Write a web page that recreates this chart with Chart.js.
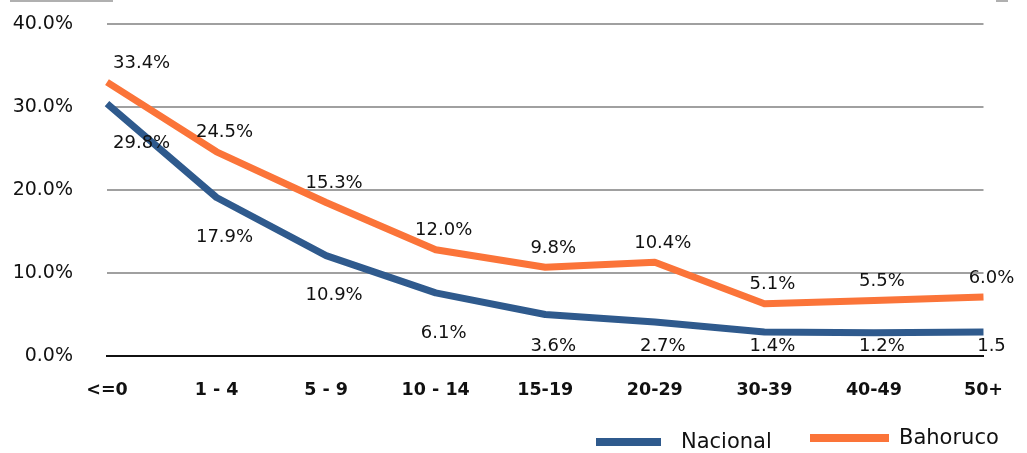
<!DOCTYPE html>
<html>
<head>
<meta charset="utf-8">
<script src="https://cdn.jsdelivr.net/npm/chart.js@4.4.1/dist/chart.umd.min.js"></script>
<style>
    html, body { margin: 0; padding: 0; background: #fff; }
    #wrap { position: relative; width: 1027px; height: 453px; }
    .legend { position: absolute; font-family: 'DejaVu Sans', sans-serif; font-size: 21px; color: #111; }
    .legend span.sw { position: absolute; height: 8px; }
    .edge { position: absolute; top: 0; height: 2px; background: #b0b0b0; }
</style>
</head>
<body>
<div id="wrap">
    <canvas id="chart" width="1027" height="453"></canvas>
    <div class="edge" style="left:10px; width:103px;"></div>
    <div class="edge" style="left:996px; width:12px;"></div>
    <div class="legend" style="left:596px; top:431px;"><span class="sw" style="left:0; top:7px; width:65px; background:#2f5a8d;"></span><span style="position:absolute; left:85px; top:-2px;">Nacional</span></div>
    <div class="legend" style="left:810px; top:427px;"><span class="sw" style="left:0; top:7px; width:79px; background:#fb7439;"></span><span style="position:absolute; left:89px; top:-2px;">Bahoruco</span></div>
</div>
<script>
// categorias de edad
const categories = ['<=0', '1 - 4', '5 - 9', '10 - 14', '15-19', '20-29', '30-39', '40-49', '50+'];

// valores de las lineas
const nacional = [30.4, 19.1, 12.1, 7.6, 5.0, 4.1, 2.9, 2.8, 2.9];
const bahoruco = [33.0, 24.6, 18.5, 12.8, 10.7, 11.3, 6.3, 6.7, 7.1];

// etiquetas de datos como aparecen
const nacionalLabels = ['29.8%', '17.9%', '10.9%', '6.1%', '3.6%', '2.7%', '1.4%', '1.2%', '1.5'];
const bahorucoLabels = ['33.4%', '24.5%', '15.3%', '12.0%', '9.8%', '10.4%', '5.1%', '5.5%', '6.0%'];

const yTicks = [0, 10, 20, 30, 40];

const fontFamily = '"DejaVu Sans", sans-serif';

// dibujar etiquetas de datos
const dataLabels = {
    id: 'dataLabels',
    afterDatasetsDraw(chart) {
        const ctx = chart.ctx;
        const area = chart.chartArea;
        ctx.save();
        ctx.font = '18px ' + fontFamily;
        ctx.fillStyle = '#111';
        ctx.textBaseline = 'middle';
        ctx.textAlign = 'center';
        chart.data.datasets.forEach((ds, i) => {
            const meta = chart.getDatasetMeta(i);
            meta.data.forEach((pt, j) => {
                const txt = ds.labels[j];
                const w = ctx.measureText(txt).width;
                let x = pt.x + 8;
                x = Math.max(x, area.left + 6 + w / 2);
                x = Math.min(x, chart.width - 2 - w / 2);
                let y;
                if (ds.labelPos === 'above') {
                    y = pt.y - 19;
                } else {
                    y = Math.min(pt.y + 40, area.bottom - 10);
                }
                ctx.fillText(txt, x, y);
            });
        });
        ctx.restore();
    }
};

const ctx = document.getElementById('chart').getContext('2d');
new Chart(ctx, {
    type: 'line',
    data: {
        labels: categories,
        datasets: [
            { label: 'Nacional', data: nacional, labels: nacionalLabels, labelPos: 'below',
              borderColor: '#2f5a8d', borderWidth: 7, pointRadius: 0, tension: 0, borderJoinStyle: 'round' },
            { label: 'Bahoruco', data: bahoruco, labels: bahorucoLabels, labelPos: 'above',
              borderColor: '#fb7439', borderWidth: 7, pointRadius: 0, tension: 0, borderJoinStyle: 'round' }
        ]
    },
    options: {
        responsive: false,
        animation: false,
        layout: { padding: { top: 24, right: 36, bottom: 47, left: 0 } },
        plugins: { legend: { display: false }, tooltip: { enabled: false } },
        scales: {
            x: {
                offset: false,
                grid: { display: false, drawTicks: false },
                border: { color: '#111', width: 2 },
                ticks: { color: '#111', padding: 24, maxRotation: 0, autoSkip: false,
                         font: { family: fontFamily, size: 17.5, weight: 'bold' } },
                afterFit(scale) { scale.height = 50; }
            },
            y: {
                min: 0, max: 40,
                afterBuildTicks(scale) { scale.ticks = yTicks.map(v => ({ value: v })); },
                grid: { color: '#a0a0a0', lineWidth: 2, drawTicks: false },
                border: { display: false },
                ticks: { color: '#111', padding: 34, callback: v => v.toFixed(1) + '%',
                         font: { family: fontFamily, size: 19 } },
                afterFit(scale) {
                    scale.width = 107;
                    scale.paddingTop = 0;
                    scale.paddingBottom = 0;
                }
            }
        }
    },
    plugins: [dataLabels]
});
</script>
</body>
</html>
